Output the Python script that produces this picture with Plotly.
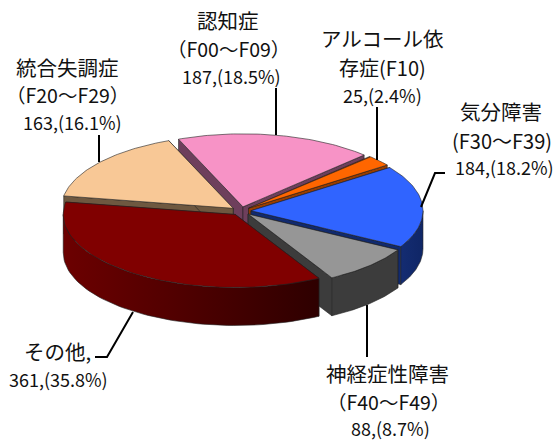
import math
import plotly.graph_objects as go

categories = ["認知症", "アルコール依存症", "気分障害", "神経症性障害", "その他", "統合失調症"]
values = [187, 25, 184, 88, 361, 163]
label_lines = [
    ["認知症", "（F00～F09）", "187,(18.5%)"],
    ["アルコール依", "存症(F10)", "25,(2.4%)"],
    ["気分障害", "(F30～F39)", "184,(18.2%)"],
    ["神経症性障害", "（F40～F49）", "88,(8.7%)"],
    ["その他,", "361,(35.8%)"],
    ["統合失調症", "（F20～F29）", "163,(16.1%)"],
]
label_sizes = [
    [20.5, 19.5, 18],
    [20.5, 20, 18],
    [20.5, 20, 18],
    [20.5, 19.5, 18],
    [20.5, 18],
    [20.5, 19.5, 18],
]
top_colors = ["#F793C6", "#FF6600", "#3064FF", "#969696", "#800000", "#F8C896"]
wall_colors = ["#6E3F5C", "#993D00", "#112A6E", "#3C3C3C", "#400000", "#6E5840"]
side_scales = [
    ["#663B52", "#663B52"], ["#993D00", "#993D00"], ["#142C72", "#0F2666"],
    ["#3C3C3C", "#3C3C3C"], ["#6C0000", "#2E0000"], ["#6E5840", "#6E5840"],
]
label_pos = [
    [(228, 20), (228, 48), (231, 76)],
    [(382, 38), (382, 67), (382, 95)],
    [(501, 111), (502, 140), (504, 167)],
    [(387, 373), (388, 401), (390, 428)],
    [(57, 351), (58, 379)],
    [(67, 67), (67, 94), (72, 122)],
]
leaders = [
    [(276, 88), (276, 135)],
    [(377, 107), (377, 160)],
    [(445, 173), (435, 173), (421, 207)],
    [(367, 305), (367, 357)],
    [(95, 357), (107, 357), (133, 312)],
    [(99, 135), (99, 162)],
]

CX, CY, RX, RY, DEPTH, EXPLODE, START = 241, 211, 172, 73, 38, 10 / 172, -22.0


def rim(apex, t0, t1, n=60):
    pts = []
    for i in range(n + 1):
        t = math.radians(t0 + (t1 - t0) * i / n)
        pts.append((apex[0] + RX * math.sin(t), apex[1] - RY * math.cos(t)))
    return pts


def poly(pts, color, line="#222222", width=0.6, gradient=None):
    xs = [p[0] for p in pts] + [pts[0][0]]
    ys = [p[1] for p in pts] + [pts[0][1]]
    kw = {"fillcolor": color}
    if gradient:
        kw = {"fillgradient": dict(type="horizontal", colorscale=[[0, gradient[0]], [1, gradient[1]]])}
    return go.Scatter(x=xs, y=ys, mode="lines", fill="toself", hoverinfo="skip",
                      showlegend=False, line=dict(color=line, width=width), **kw)


total = sum(values)
slices = []
angle = START
for i, v in enumerate(values):
    span = v / total * 360
    mid = math.radians(angle + span / 2)
    apex = (CX + EXPLODE * RX * math.sin(mid), CY - EXPLODE * RY * math.cos(mid))
    slices.append(dict(i=i, t0=angle, t1=angle + span, apex=apex))
    angle += span

fig = go.Figure()
# painter's order: rear slices first, front-most last
for s in sorted(slices, key=lambda q: q["apex"][1]):
    i, t0, t1, apex = s["i"], s["t0"], s["t1"], s["apex"]
    for t in (t0, t1):
        edge = rim(apex, t, t, 1)[0]
        fig.add_trace(poly([apex, edge, (edge[0], edge[1] + DEPTH), (apex[0], apex[1] + DEPTH)],
                           wall_colors[i]))
    # visible part of the outer side: 90..270 degrees
    a = t0 % 360
    b = a + (t1 - t0)
    lo, hi = max(a, 90), min(b, 270)
    if hi > lo:
        arc = rim(apex, lo, hi)
        low = [(x, y + DEPTH) for x, y in reversed(arc)]
        fig.add_trace(poly(arc + low, side_scales[i][0], gradient=side_scales[i]))
    arc = rim(apex, t0, t1)
    fig.add_trace(poly([apex] + arc, top_colors[i]))

for seg in leaders:
    fig.add_trace(go.Scatter(x=[p[0] for p in seg], y=[p[1] for p in seg], mode="lines",
                             hoverinfo="skip", showlegend=False,
                             line=dict(color="#000000", width=2)))

annotations = []
for lines, sizes, pos in zip(label_lines, label_sizes, label_pos):
    for text, size, (x, y) in zip(lines, sizes, pos):
        annotations.append(dict(x=x, y=y, text=text, showarrow=False, xanchor="center",
                                yanchor="middle", xref="x", yref="y",
                                font=dict(family="Noto Sans CJK JP", size=size, color="#111111")))

fig.update_layout(
    width=554, height=441, margin=dict(l=0, r=0, t=0, b=0),
    paper_bgcolor="white", plot_bgcolor="white", showlegend=False,
    xaxis=dict(range=[0, 554], visible=False, fixedrange=True),
    yaxis=dict(range=[441, 0], visible=False, fixedrange=True),
    annotations=annotations,
)
fig.write_html("out.html", config=dict(displayModeBar=False),
               post_script="document.body.style.margin='0';document.documentElement.style.overflow='hidden';")
